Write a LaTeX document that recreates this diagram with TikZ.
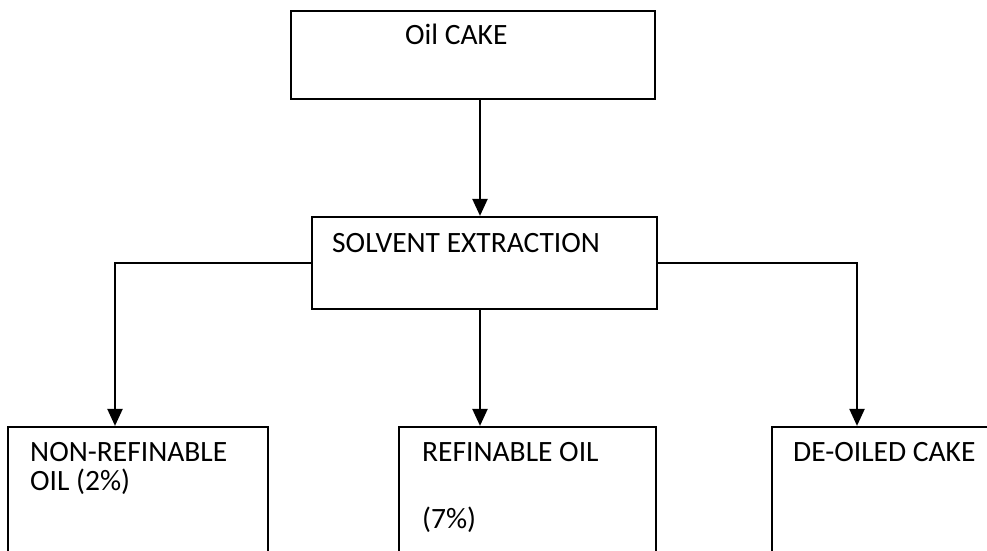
\documentclass[tikz,border=0pt]{standalone}
\usepackage{fontspec}
\setmainfont{Carlito}
\usetikzlibrary{arrows.meta}
\begin{document}
\begin{tikzpicture}[x=1pt,y=-1pt,
  box/.style={draw=black,line width=2.2pt,minimum width=#1,inner sep=0pt},
  txt/.style={anchor=base west,inner sep=0pt,font=\fontsize{29.5}{29.5}\selectfont},
  arr/.style={line width=2.2pt,-{Triangle[width=15pt,length=17pt]}}]
\useasboundingbox (0,0) rectangle (987,551);
\clip (0,0) rectangle (987,551);
\fill[white] (0,0) rectangle (987,551);
% boxes
\node[box=364pt,minimum height=88pt] (top) at (473,55) {};
\node[box=345pt,minimum height=92pt] (sol) at (484.5,263) {};
\node[box=260pt,minimum height=193pt] (nr) at (138,523.5) {};
\node[box=257pt,minimum height=193pt] (ro) at (527.5,523.5) {};
\node[box=278pt,minimum height=193pt] (de) at (911,523.5) {};
% texts
\node[txt] (t1) at (405,45) {Oil CAKE};
\node[txt] (t2) at (332,252) {SOLVENT EXTRACTION};
\node[txt] (t3) at (30,461) {NON-REFINABLE};
\node[txt] (t4) at (30,490) {OIL (2\%)};
\node[txt] (t5) at (422,461) {REFINABLE OIL};
\node[txt] (t6) at (422,528) {(7\%)};
\node[txt] (t7) at (793,461) {DE-OILED CAKE};
% connector columns
\coordinate (cm) at (480,0);
\coordinate (cl) at (115,0);
\coordinate (cr) at (857,0);
\draw[arr] (top.south -| cm) -- (sol.north -| cm);
\draw[arr] (sol.south -| cm) -- (ro.north -| cm);
\draw[arr] (sol.west) -| (nr.north -| cl);
\draw[arr] (sol.east) -| (de.north -| cr);
\end{tikzpicture}
\end{document}
